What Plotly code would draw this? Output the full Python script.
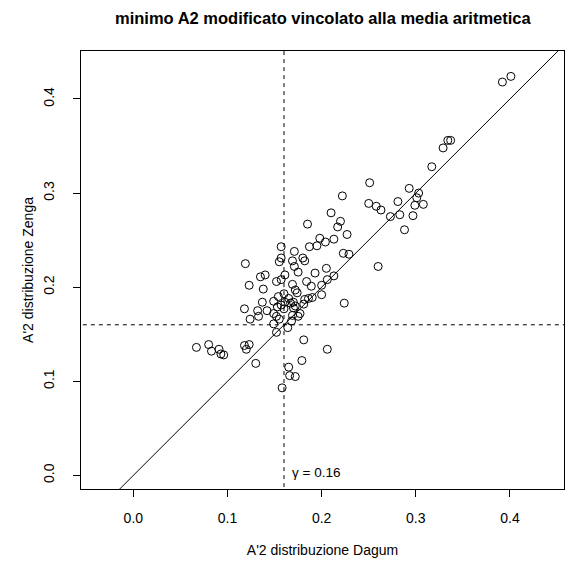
import plotly.graph_objects as go

# Data
dagum = [0.392, 0.401, 0.329, 0.334, 0.337, 0.317, 0.251, 0.293, 0.303, 0.301,
         0.281, 0.250, 0.258, 0.299, 0.308, 0.263, 0.273, 0.283, 0.297, 0.288,
         0.260, 0.222, 0.210, 0.220, 0.185, 0.217, 0.227, 0.198, 0.204, 0.213,
         0.195, 0.187, 0.157, 0.171, 0.223, 0.229, 0.119, 0.157, 0.155, 0.169,
         0.180, 0.182, 0.171, 0.205, 0.175, 0.193, 0.213, 0.140, 0.135, 0.161,
         0.157, 0.152, 0.206, 0.184, 0.123, 0.138, 0.169, 0.200, 0.189, 0.172,
         0.174, 0.200, 0.160, 0.154, 0.118, 0.137, 0.149, 0.132, 0.142, 0.157,
         0.161, 0.167, 0.170, 0.153, 0.160, 0.149, 0.152, 0.155, 0.124, 0.133,
         0.182, 0.186, 0.190, 0.181, 0.170, 0.177, 0.169, 0.168, 0.149, 0.224,
         0.152, 0.164, 0.181, 0.206, 0.179, 0.165, 0.166, 0.172, 0.158, 0.130,
         0.118, 0.123, 0.120, 0.067, 0.080, 0.083, 0.091, 0.093, 0.096, 0.175,
         0.165, 0.172]
zenga = [0.418, 0.424, 0.348, 0.356, 0.356, 0.328, 0.311, 0.305, 0.300, 0.295,
         0.291, 0.289, 0.286, 0.287, 0.288, 0.282, 0.275, 0.277, 0.276, 0.261,
         0.222, 0.297, 0.279, 0.270, 0.267, 0.264, 0.256, 0.252, 0.248, 0.251,
         0.244, 0.243, 0.243, 0.238, 0.236, 0.235, 0.225, 0.231, 0.227, 0.228,
         0.231, 0.228, 0.222, 0.220, 0.216, 0.215, 0.212, 0.213, 0.211, 0.213,
         0.208, 0.206, 0.208, 0.206, 0.202, 0.198, 0.203, 0.202, 0.201, 0.197,
         0.194, 0.192, 0.193, 0.190, 0.177, 0.184, 0.185, 0.175, 0.175, 0.181,
         0.184, 0.183, 0.184, 0.179, 0.177, 0.172, 0.169, 0.166, 0.166, 0.169,
         0.187, 0.188, 0.189, 0.182, 0.178, 0.172, 0.170, 0.164, 0.161, 0.183,
         0.152, 0.157, 0.144, 0.134, 0.122, 0.115, 0.106, 0.105, 0.093, 0.119,
         0.138, 0.139, 0.134, 0.136, 0.139, 0.132, 0.134, 0.129, 0.128, 0.169,
         0.188, 0.180]

gamma = 0.16
x_range = [-0.0556, 0.4574]
y_range = [-0.0145, 0.4510]
x_ticks = [0.0, 0.1, 0.2, 0.3, 0.4]
y_ticks = [0.0, 0.1, 0.2, 0.3, 0.4]
x_tick_text = ["0.0", "0.1", "0.2", "0.3", "0.4"]
y_tick_text = ["0.0", "0.1", "0.2", "0.3", "0.4"]

title = "minimo A2 modificato vincolato alla media aritmetica"
x_title = "A'2 distribuzione Dagum"
y_title = "A'2 distribuzione Zenga"

FONT = "Liberation Sans, Arial, Helvetica, sans-serif"

fig = go.Figure()

# identity line y = x (abline(0,1))
fig.add_trace(go.Scatter(x=[x_range[0] - 0.1, x_range[1] + 0.1],
                         y=[x_range[0] - 0.1, x_range[1] + 0.1],
                         mode="lines", line=dict(color="black", width=1),
                         hoverinfo="skip", showlegend=False))

# dashed reference lines at gamma
fig.add_trace(go.Scatter(x=[gamma, gamma], y=[y_range[0] - 0.1, y_range[1] + 0.1],
                         mode="lines", line=dict(color="black", width=1, dash="4px,4px"),
                         hoverinfo="skip", showlegend=False))
fig.add_trace(go.Scatter(x=[x_range[0] - 0.1, x_range[1] + 0.1], y=[gamma, gamma],
                         mode="lines", line=dict(color="black", width=1, dash="4px,4px"),
                         hoverinfo="skip", showlegend=False))

# points
fig.add_trace(go.Scatter(x=dagum, y=zenga, mode="markers",
                         marker=dict(symbol="circle-open", size=8,
                                     color="black", line=dict(width=1, color="black")),
                         showlegend=False))

fig.add_annotation(x=gamma, y=0, xref="x", yref="y", text="γ = 0.16",
                   showarrow=False, xanchor="left", yanchor="middle",
                   xshift=6, yshift=3, font=dict(family=FONT, size=13.5, color="black"))

fig.add_annotation(x=0.5, y=1 + (51 - 18) / (563 - 51 - 74), xref="paper", yref="paper",
                   text="<b>" + title + "</b>",
                   showarrow=False, xanchor="center", yanchor="middle",
                   font=dict(family=FONT, size=16.5, color="black"))

axis_common = dict(showgrid=False, zeroline=False, showline=True, mirror=True,
                   linecolor="black", linewidth=1, ticks="outside", ticklen=7,
                   tickwidth=1, tickcolor="black",
                   tickfont=dict(family=FONT, size=14, color="black"))

fig.update_layout(
    width=565, height=563,
    margin=dict(l=81, r=1, t=51, b=74),
    paper_bgcolor="white", plot_bgcolor="white",
    font=dict(family=FONT, size=14, color="black"),
    xaxis=dict(range=x_range, tickvals=x_ticks, ticktext=x_tick_text,
               title=dict(text=x_title, font=dict(family=FONT, size=14), standoff=20),
               ticklabelstandoff=9, **axis_common),
    yaxis=dict(range=y_range, tickvals=y_ticks, ticktext=y_tick_text, tickangle=-90,
               title=dict(text=y_title, font=dict(family=FONT, size=14), standoff=4),
               ticklabelstandoff=13, **axis_common),
)

fig.write_html("out.html")
